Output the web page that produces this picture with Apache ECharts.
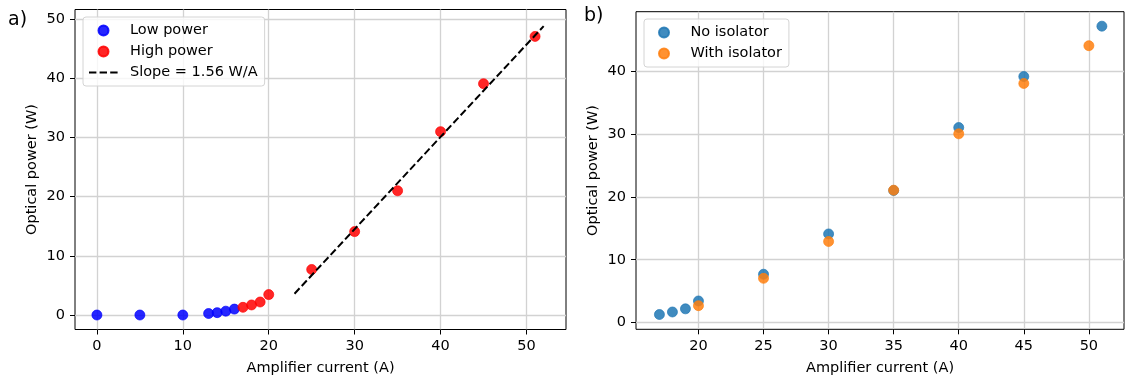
<!DOCTYPE html>
<html>
<head>
<meta charset="utf-8">
<script src="https://cdn.jsdelivr.net/npm/echarts@6/dist/echarts.min.js"></script>
<style>
  html, body { margin: 0; padding: 0; background: #fff; }
  #chart { width: 1127px; height: 376px; }
</style>
</head>
<body>
<div id="chart"></div>
<script>
// values
const lowX = [0, 5, 10, 13, 14, 15, 16];
const lowY = [0, 0, 0, 0.25, 0.4, 0.65, 1.0];

// same measurements serve as "High power" (a) and "No isolator" (b)
const highX = [17, 18, 19, 20, 25, 30, 35, 40, 45, 51];
const highY = [1.3, 1.7, 2.2, 3.45, 7.7, 14.1, 21, 31, 39.1, 47.1];

const withIsoX = [20, 25, 30, 35, 40, 45, 50];
const withIsoY = [2.7, 7.05, 12.9, 21.05, 30, 38, 44];

// fitted line, slope 1.56 W/A
const fitX = [23, 52];
const fitY = [3.6, 48.84];

const leftXTicks = [0, 10, 20, 30, 40, 50];
const leftYTicks = [0, 10, 20, 30, 40, 50];
const rightXTicks = [20, 25, 30, 35, 40, 45, 50];
const rightYTicks = [0, 10, 20, 30, 40];

const FONT = 'DejaVu Sans';
const FS = 14.5;
const pairs = (xs, ys) => xs.map((x, i) => [x, ys[i]]);

function axis(gridIndex, min, max, ticks, name, nameGap, margin) {
    return {
        type: 'value',
        gridIndex,
        min,
        max,
        name,
        nameLocation: 'middle',
        nameGap,
        nameTextStyle: { fontFamily: FONT, fontSize: FS, color: '#000' },
        axisLine: { show: false, onZero: false },
        axisTick: { show: true, inside: false, length: 5, customValues: ticks, lineStyle: { color: '#000', width: 1 } },
        axisLabel: { customValues: ticks, margin, fontFamily: FONT, fontSize: FS, color: '#000' },
        splitLine: { show: true, lineStyle: { color: '#d2d2d2', width: 1.3 } }
    };
}

function legend(left, top, names, padLeft) {
    return {
        orient: 'vertical',
        left,
        top,
        align: 'left',
        data: names,
        itemWidth: 29,
        itemHeight: 10,
        itemGap: 6,
        padding: [6, 7, 6, padLeft],
        borderColor: '#d4d4d4',
        borderWidth: 1,
        borderRadius: 3,
        backgroundColor: 'rgba(255,255,255,0.8)',
        selectedMode: false,
        textStyle: { fontFamily: FONT, fontSize: FS, color: '#000', lineHeight: 15, padding: [0, 0, 0, 7] }
    };
}

function scatter(name, xi, data, color) {
    return {
        name,
        type: 'scatter',
        xAxisIndex: xi,
        yAxisIndex: xi,
        data,
        symbolSize: 10,
        itemStyle: { color, opacity: 0.85, borderColor: color, borderWidth: 0.8 }
    };
}

const chart = echarts.init(document.getElementById('chart'));

chart.setOption({
    animation: false,
    backgroundColor: '#fff',
    textStyle: { fontFamily: FONT },
    title: [
        { text: 'a)', left: 8, top: 11, padding: 0, textStyle: { fontFamily: FONT, fontSize: 19, fontWeight: 'normal', color: '#000' } },
        { text: 'b)', left: 584, top: 7, padding: 0, textStyle: { fontFamily: FONT, fontSize: 19, fontWeight: 'normal', color: '#000' } }
    ],
    grid: [
        { left: 75, top: 9.5, width: 491, height: 320, outerBoundsMode: 'none', show: true, borderColor: '#000', borderWidth: 1, backgroundColor: 'transparent' },
        { left: 636, top: 11.7, width: 488, height: 317.6, outerBoundsMode: 'none', show: true, borderColor: '#000', borderWidth: 1, backgroundColor: 'transparent' }
    ],
    xAxis: [
        axis(0, -2.55, 54.6, leftXTicks, 'Amplifier current (A)', 31, 9),
        axis(1, 15.2, 52.7, rightXTicks, 'Amplifier current (A)', 31, 9)
    ],
    yAxis: [
        axis(0, -2.45, 51.65, leftYTicks, 'Optical power (W)', 35, 10),
        axis(1, -1.05, 49.4, rightYTicks, 'Optical power (W)', 35, 10)
    ],
    legend: [
        legend(83, 17, [
            { name: 'Low power', icon: 'circle' },
            { name: 'High power', icon: 'circle' },
            { name: 'Slope = 1.56 W/A', itemStyle: { color: 'rgba(0,0,0,0)', borderWidth: 0 } }
        ], 5),
        legend(644, 19, [
            { name: 'No isolator', icon: 'circle' },
            { name: 'With isolator', icon: 'circle' }
        ], 14)
    ],
    series: [
        scatter('Low power', 0, pairs(lowX, lowY), '#0000ff'),
        scatter('High power', 0, pairs(highX, highY), '#ff0000'),
        {
            name: 'Slope = 1.56 W/A',
            type: 'line',
            xAxisIndex: 0,
            yAxisIndex: 0,
            data: pairs(fitX, fitY),
            symbol: 'none',
            lineStyle: { color: '#000', width: 2, type: [7.4, 3.2] },
            itemStyle: { color: '#000' },
            z: 3
        },
        scatter('No isolator', 1, pairs(highX, highY), '#1f77b4'),
        scatter('With isolator', 1, pairs(withIsoX, withIsoY), '#ff7f0e')
    ]
});
</script>
</body>
</html>
